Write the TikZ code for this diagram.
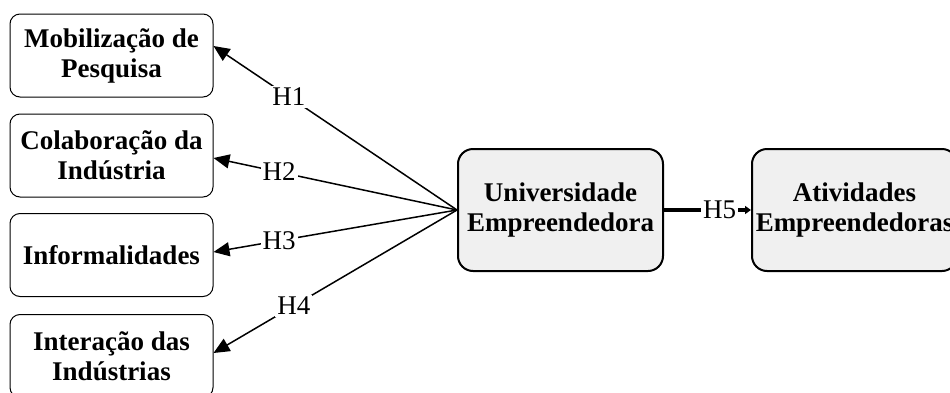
\documentclass[tikz,border=0pt]{standalone}
\usepackage{fontspec}
\setmainfont{Liberation Serif}
\usepackage{xcolor}
\usepackage{tikz}
\usetikzlibrary{arrows.meta}

\definecolor{fundocinza}{HTML}{F0F0F0}

\begin{document}
\begin{tikzpicture}[
	x=0.5pt, y=-0.5pt,
	caixa/.style={
		draw,
		line width=0.5pt,
		rounded corners=5pt,
		minimum width=101.5pt,
		minimum height=41.5pt,
		align=center,
		font=\fontsize{13.5pt}{15pt}\selectfont\bfseries
	},
	caixacentral/.style={
		caixa,
		line width=1pt,
		rounded corners=7.5pt,
		fill=fundocinza,
		inner xsep=0pt,
		minimum width=102.5pt,
		minimum height=61pt
	},
	seta/.style={
		line width=0.75pt,
		-{Triangle[length=8pt,width=7pt]}
	},
	rotulo/.style={
		fill=white,
		inner sep=1pt,
		font=\fontsize{13.5pt}{15pt}\selectfont
	}
]
	% Moldura
	\useasboundingbox (0,0) rectangle (950,392);
	% Construtos (esquerda)
	\node[caixa] (mobilizacao) at (111.5,55.5)  {Mobilização de\\Pesquisa};
	\node[caixa] (colaboracao) at (111.5,155.5) {Colaboração da\\Indústria};
	\node[caixa] (informalidades) at (111.5,255) {Informalidades};
	\node[caixa] (interacao) at (111.5,356) {Interação das\\Indústrias};
	% Construtos (direita)
	\node[caixacentral] (universidade) at (560.5,210) {Universidade\\Empreendedora};
	\node[caixacentral] (atividades)   at (854.5,210) {Atividades\\Empreendedoras};

	% Hipóteses
	\draw[seta] (universidade.west) -- node[rotulo, pos=0.69] {H1}
		([yshift=4.75pt]mobilizacao.east);
	\draw[seta] (universidade.west) -- node[rotulo, pos=0.73] {H2}
		([yshift=-1.25pt]colaboracao.east);
	\draw[seta] (universidade.west) -- node[rotulo, pos=0.73] {H3}
		([yshift=1.5pt]informalidades.east);
	\draw[seta] (universidade.west) -- node[rotulo, pos=0.67] {H4}
		([yshift=1.5pt]interacao.east);
	\draw[
		line width=2pt,
		-{Triangle[length=3pt,width=4pt]}
	] (universidade.east) -- node[rotulo, pos=0.64] {H5} (atividades.west);
\end{tikzpicture}
\end{document}
